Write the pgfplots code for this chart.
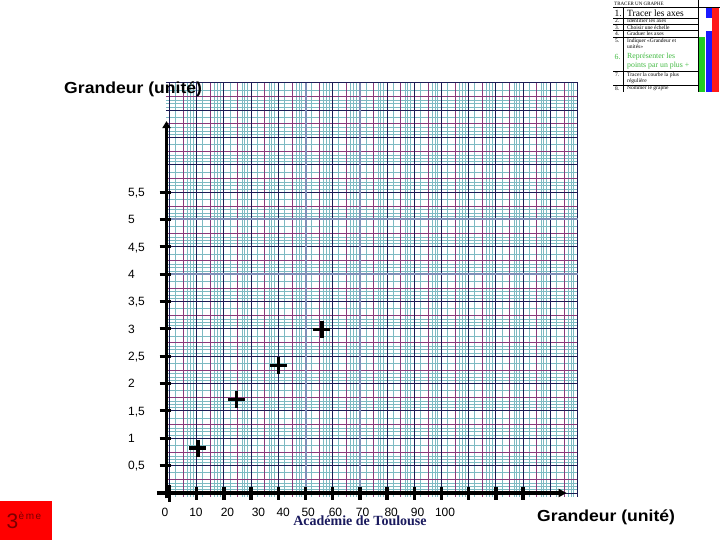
\documentclass[border=0pt]{standalone}
\usepackage{pgfplots}
\pgfplotsset{compat=1.18}
\usetikzlibrary{arrows.meta}
\usepackage{fontspec}
\setmainfont{Liberation Sans}
\newfontfamily\seriffont{Liberation Serif}
\definecolor{navy}{HTML}{1C1C55}
\definecolor{purp}{HTML}{8A3A7A}
\definecolor{tealg}{HTML}{7DBAC2}
\definecolor{thickb}{HTML}{8090B8}
\definecolor{acad}{HTML}{1A1A5E}
\definecolor{darkred}{HTML}{7A0000}
\definecolor{insetgreen}{HTML}{22CC22}
\definecolor{insetblue}{HTML}{1A1AFF}
\definecolor{insetred}{HTML}{FF1A1A}
\definecolor{textgreen}{HTML}{44BB44}
\begin{document}
\begin{tikzpicture}[x=1pt,y=1pt]
\path[use as bounding box, fill=white] (0,0) rectangle (720,540);
% ---- graph paper (decoration) ----
\begin{scope}[shift={(169.5pt,47pt)}, x=2.72pt, y=54.7pt]
  \foreach \k in {0,10,...,140}{
    \foreach \o in {2.2,6.6,7.6,8.6}{
      \draw[tealg, line width=0.6pt] (\k+\o,-0.073) -- (\k+\o,7.5);
    }
  }
  \foreach \k in {0,0.5,...,7}{
    \foreach \o in {0.06,0.12,0.18,0.37}{
      \draw[tealg, line width=0.6pt] (-1.29,\k+\o) -- (150,\k+\o);
    }
  }
  \foreach \x in {5,15,...,145}
    \draw[purp, line width=0.6pt] (\x,-0.073) -- (\x,7.5);
  \foreach \y in {0.25,0.75,...,7.25}
    \draw[purp, line width=0.6pt] (-1.29,\y) -- (150,\y);
  \foreach \x in {0,10,20,30,40,60,80,90,100,110,120,130,140,150}
    \draw[navy, line width=0.9pt] (\x,-0.073) -- (\x,7.5);
  \foreach \y in {0,0.5,1,1.5,2,2.5,3,3.5,4.5,5.5,6,6.5,7,7.5}
    \draw[navy, line width=0.9pt] (-1.29,\y) -- (150,\y);
  \foreach \x in {50,70}
    \draw[thickb, line width=2pt] (\x,-0.073) -- (\x,7.5);
  \foreach \y in {4,5}
    \draw[thickb, line width=2pt] (-1.29,\y) -- (150,\y);
  % axes drawn by hand
  \draw[line width=3pt, -{Triangle[length=7pt,width=8pt]}] (-1.1,-0.1) -- (-1.1,6.8);
  \draw[line width=3.5pt, -{Triangle[length=8pt,width=8pt]}] (-4.6,0) -- (146,0);
  \foreach \y in {0.5,1,...,5.5}
    \draw[line width=3pt] (-3.6,\y) -- (0.6,\y);
  \foreach \x in {10,20,...,130}
    \draw[line width=3.5pt] (\x,0.11) -- (\x,-0.13);
\end{scope}
% ---- data ----
\begin{axis}[at={(164.06pt,43pt)}, anchor=south west,
  x=2.72pt, y=54.7pt,
  xmin=-2, xmax=150, ymin=-0.073, ymax=7.5,
  axis line style={draw=none}, tick style={draw=none},
  clip=false,
  xtick={-1.65,9.74,21.3,32.7,41.8,51.0,61.0,71.0,81.5,91.2,101.3},
  xticklabels={0,10,20,30,40,50,60,70,80,90,100},
  ytick={0.5,1,1.5,2,2.5,3,3.5,4,4.5,5,5.5},
  yticklabels={{0,5},1,{1,5},2,{2,5},3,{3,5},4,{4,5},5,{5,5}},
  xticklabel style={anchor=center, yshift=-15pt, inner sep=0pt, font=\fontsize{12}{12}\selectfont, text height=8.6pt, text depth=0pt},
  yticklabel style={anchor=west, xshift=-36.06pt, inner sep=0pt, font=\fontsize{12}{12}\selectfont, text height=8.6pt, text depth=0pt},
]
\addplot[only marks, mark=+, mark size=8.5pt, mark options={line width=3.5pt, black}]
  coordinates {(0,0) (10.4,0.82) (24.7,1.71) (40.0,2.33) (56.0,2.99)};
\end{axis}
% ---- texts ----
\node[anchor=base west, inner sep=0pt, xscale=1.1, font=\bfseries\fontsize{16}{16}\selectfont] at (64,446.5) {Grandeur (unité)};
\node[anchor=base west, inner sep=0pt, xscale=1.1, font=\bfseries\fontsize{16}{16}\selectfont] at (537,18.2) {Grandeur (unité)};
\node[anchor=base, inner sep=0pt, text=acad, font=\seriffont\bfseries\fontsize{14}{14}\selectfont] at (360,14) {Académie de Toulouse};
% ---- 3ème box ----
\fill[red] (0,0) rectangle (51.7,39);
\node[anchor=base west, inner sep=0pt, text=darkred, font=\fontsize{21}{21}\selectfont] at (6.5,11.7) {3};
\node[anchor=base west, inner sep=0pt, text=darkred, font=\fontsize{10}{10}\selectfont] at (18.5,20) {è\kern1.5pt m\kern1.5pt e};
% ---- inset checklist ----
\fill[insetgreen] (699,448) rectangle (705,502.7);
\fill[insetblue] (705.7,521.7) rectangle (711.7,532.7);
\fill[insetblue] (705.7,448) rectangle (711.7,509.3);
\fill[insetred] (712.3,448) rectangle (719.3,532.7);
\begin{scope}[line width=0.5pt]
  \draw (613,532.7) -- (720,532.7);
  \foreach \py in {18.3,24.3,30.7,37.3,71.7,85}
    \draw (613,540-\py) -- (698.3,540-\py);
  \draw (623.3,448) -- (623.3,532.7);
  \draw (698.3,448) -- (698.3,540);
\end{scope}
\begin{scope}[font=\seriffont, inner sep=0pt]
  \node[anchor=west, font=\seriffont\fontsize{5}{5}\selectfont] at (614,536) {TRACER UN GRAPHE};
  \node[anchor=west, font=\seriffont\fontsize{9.5}{9.5}\selectfont] at (614.5,527) {1.};
  \node[anchor=west, font=\seriffont\fontsize{9.5}{9.5}\selectfont] at (627,527) {Tracer les axes};
  \node[anchor=west, font=\seriffont\fontsize{5.5}{5.5}\selectfont] at (615,519) {2.};
  \node[anchor=west, font=\seriffont\fontsize{5.5}{5.5}\selectfont] at (627,519) {Identifier les axes};
  \node[anchor=west, font=\seriffont\fontsize{5.5}{5.5}\selectfont] at (615,512.5) {3.};
  \node[anchor=west, font=\seriffont\fontsize{5.5}{5.5}\selectfont] at (627,512.5) {Choisir une échelle};
  \node[anchor=west, font=\seriffont\fontsize{5.5}{5.5}\selectfont] at (615,506) {4.};
  \node[anchor=west, font=\seriffont\fontsize{5.5}{5.5}\selectfont] at (627,506) {Graduer les axes};
  \node[anchor=west, font=\seriffont\fontsize{5.5}{5.5}\selectfont] at (615,499) {5.};
  \node[anchor=west, font=\seriffont\fontsize{5.5}{5.5}\selectfont] at (627,499) {Indiquer «Grandeur et};
  \node[anchor=west, font=\seriffont\fontsize{5.5}{5.5}\selectfont] at (627,493) {unités»};
  \node[anchor=west, text=textgreen, font=\seriffont\fontsize{7.8}{7.8}\selectfont] at (614.5,483) {6.};
  \node[anchor=west, text=textgreen, font=\seriffont\fontsize{7.8}{7.8}\selectfont] at (627,483) {Représenter les};
  \node[anchor=west, text=textgreen, font=\seriffont\fontsize{7.8}{7.8}\selectfont] at (627,474) {points par un plus +};
  \node[anchor=west, font=\seriffont\fontsize{5.5}{5.5}\selectfont] at (615,465) {7.};
  \node[anchor=west, font=\seriffont\fontsize{5.5}{5.5}\selectfont] at (627,465) {Tracer la courbe la plus};
  \node[anchor=west, font=\seriffont\fontsize{5.5}{5.5}\selectfont] at (627,459) {régulière};
  \node[anchor=west, font=\seriffont\fontsize{5.5}{5.5}\selectfont] at (615,451.5) {8.};
  \node[anchor=west, font=\seriffont\fontsize{5.5}{5.5}\selectfont] at (627,451.5) {Nommer le graphe};
\end{scope}
\end{tikzpicture}
\end{document}
